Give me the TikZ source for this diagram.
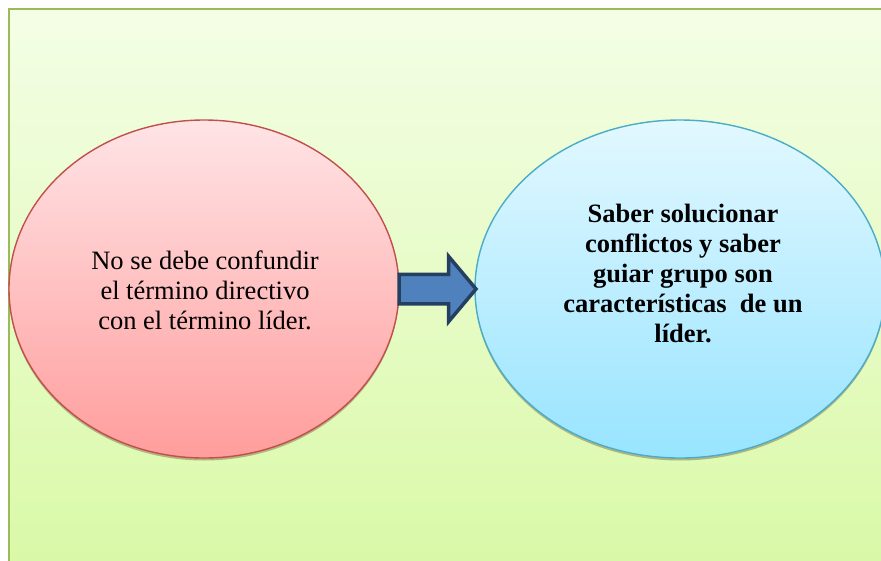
\documentclass[tikz,border=0pt]{standalone}
\usepackage{fontspec}
\setmainfont{Liberation Serif}
\usetikzlibrary{shapes.geometric,shapes.arrows,shadows}
\definecolor{frameline}{HTML}{9BBB59}
\definecolor{frametop}{HTML}{F4FEE6}
\definecolor{framebot}{HTML}{D9F9A6}
\definecolor{redline}{HTML}{C0504D}
\definecolor{redtop}{HTML}{FFE4E6}
\definecolor{redbot}{HTML}{FF9D9C}
\definecolor{blueline}{HTML}{4BACC6}
\definecolor{bluetop}{HTML}{E2F8FF}
\definecolor{bluebot}{HTML}{98E4FF}
\definecolor{arrowfill}{HTML}{4F81BD}
\definecolor{arrowline}{HTML}{243F60}
\tikzset{
  bubble/.style={ellipse, minimum width=#1, line width=1.4pt,
    drop shadow={shadow xshift=0pt, shadow yshift=-2.5pt, fill=black!45!olive!60, opacity=0.7}},
  bubbletext/.style={align=center, font=\fontsize{26.5}{30}\selectfont},
}
\begin{document}
\begin{tikzpicture}[x=1pt,y=-1pt]
  \useasboundingbox (0,0) rectangle (881,560);
  \begin{scope}
    \clip (0,0) rectangle (881,560);
    % background panel
    \shade[top color=frametop, bottom color=framebot, draw=frameline, line width=2pt]
      (9,9) rectangle (895,575);
    % left bubble
    \node[bubble=390pt, minimum height=338pt, draw=redline,
          top color=redtop, bottom color=redbot] (left) at (204,289) {};
    % right bubble
    \node[bubble=410pt, minimum height=338pt, draw=blueline,
          top color=bluetop, bottom color=bluebot] (right) at (680,289) {};
  \end{scope}
  \node[bubbletext] (lefttext) at (205,290)
    {No se debe confundir\\el término directivo\\con el término líder.};
  \node[bubbletext, font=\fontsize{26.5}{30}\selectfont\bfseries] (righttext) at (683,273)
    {Saber solucionar\\conflictos y saber\\guiar grupo son\\características\ \ de un\\líder.};
  % block arrow between the bubbles
  \node[single arrow, draw=arrowline, fill=arrowfill, line width=3.5pt,
        minimum height=77pt, single arrow head extend=18pt,
        single arrow tip angle=100,
        inner xsep=0pt, inner ysep=0pt, outer sep=0pt, anchor=tail] (arr) at (399,289)
        {\rule{0pt}{26pt}};
\end{tikzpicture}
\end{document}
